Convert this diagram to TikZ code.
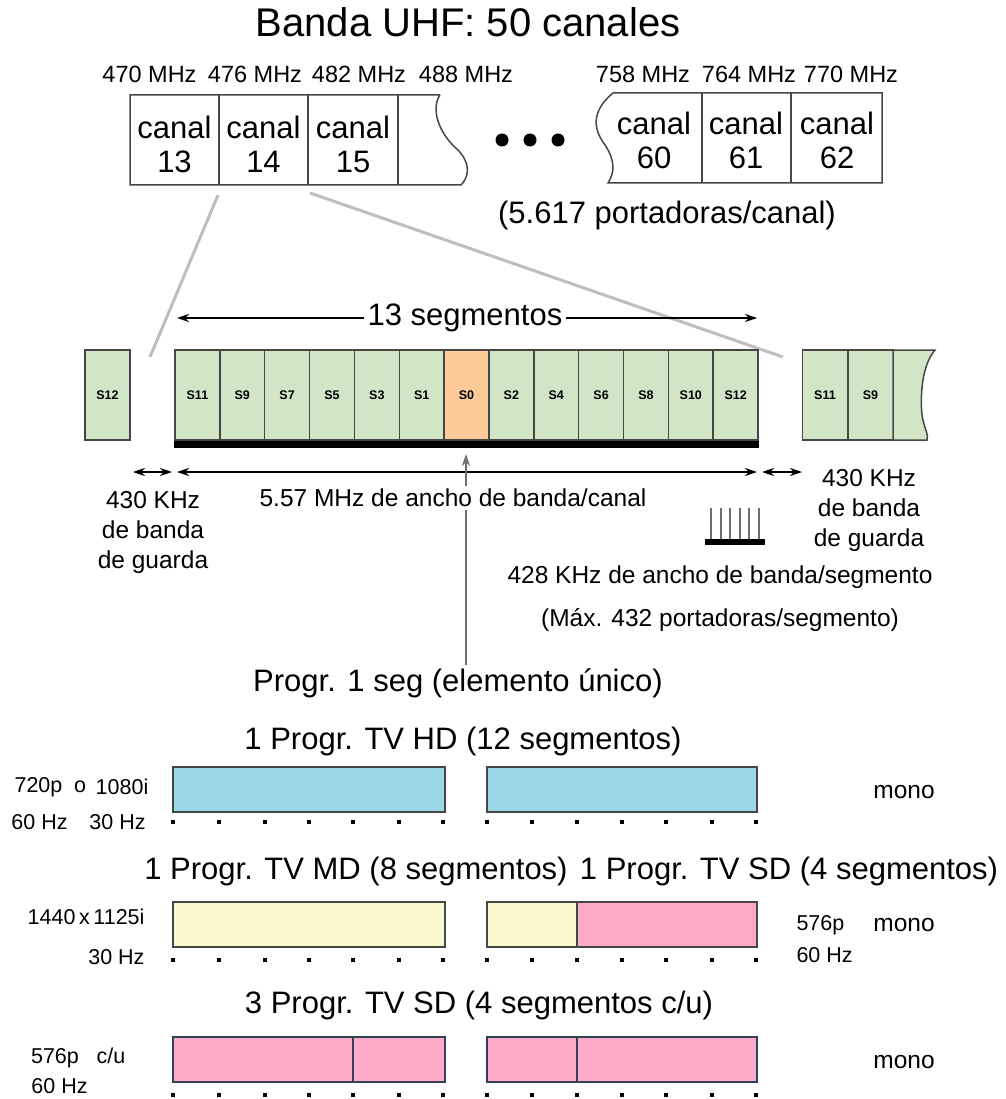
\documentclass[tikz,border=0pt]{standalone}
\usepackage{fontspec}
\setmainfont{Liberation Sans}
\usepackage{tikz}
\usetikzlibrary{arrows.meta,positioning,calc}

\definecolor{segverde}{RGB}{208,230,198}
\definecolor{segnaranja}{RGB}{252,202,152}
\definecolor{azulhd}{RGB}{155,216,233}
\definecolor{amarillo}{RGB}{250,247,205}
\definecolor{rosa}{RGB}{255,170,200}
\definecolor{borde}{RGB}{70,70,70}
\definecolor{bordeazul}{RGB}{50,65,85}
\definecolor{gris}{RGB}{190,190,190}
\definecolor{grisosc}{RGB}{110,110,110}

\begin{document}
\begin{tikzpicture}[x=1pt,y=-1pt,>={Stealth[length=12pt,width=8pt]},
  titulo/.style={font=\fontsize{40}{46}\selectfont},
  grande/.style={font=\fontsize{31}{34}\selectfont},
  medio/.style={font=\fontsize{24.5}{30}\selectfont},
  chico/.style={font=\fontsize{21.5}{26}\selectfont},
  frec/.style={font=\fontsize{23.5}{28}\selectfont},
  canal/.style={grande,align=center,inner sep=0pt},
  seg/.style={draw=borde,line width=1.5pt,fill=segverde,minimum width=44.85pt,
    minimum height=90pt,inner sep=0pt,font=\bfseries\fontsize{12.5}{12.5}\selectfont},
  barra/.style={draw=borde,line width=1.5pt},
  zoomlinea/.style={draw=gris,line width=3pt}]
  \useasboundingbox (0,0) rectangle (1005,1099);

  % banda UHF
  \node[titulo] (titulo) at (468,22) {Banda UHF: 50 canales};
  \foreach \f/\x in {470/149.5,476/255,482/359,488/466,758/643,764/749,770/851}
    \node[frec] (f\f) at (\x,74) {\f~MHz};

  \draw[barra] (440,95) -- (130,95) -- (130,185) -- (461,185)
    .. controls (468,178) and (472,165) .. (458,150)
    .. controls (440,135) and (430,110) .. (440,95);
  \foreach \x in {219,308,398}
    \draw[barra] (\x,95) -- (\x,185);
  \foreach \n/\x in {13/174.5,14/263.5,15/353}
    \node[canal] (c\n) at (\x,144) {canal\\\n};

  \foreach \x [count=\i] in {502,530,558}
    \fill (\x,140) circle[radius=6.5pt];

  \draw[barra] (613,93) -- (882,93) -- (882,183) -- (608,183)
    .. controls (615,172) and (615,160) .. (605,145)
    .. controls (590,125) and (595,108) .. (613,93);
  \foreach \x in {702,791}
    \draw[barra] (\x,93) -- (\x,183);
  \foreach \n/\x in {60/654,61/746,62/837}
    \node[canal] (c\n) at (\x,140) {canal\\\n};

  \node[grande] (portadoras) at (667,215) {(5.617 portadoras/canal)};

  % lineas de ampliacion
  \coordinate (z1a) at (218,195);
  \coordinate (z1b) at (150,357);
  \coordinate (z2a) at (310,193);
  \coordinate (z2b) at (783,357);
  \draw[zoomlinea] (z1a) -- (z1b);
  \draw[zoomlinea] (z2a) -- (z2b);

  % segmentos
  \node[seg] (sg12) at (107.5,395) {S12};
  \foreach \nom/\col [count=\i from 0] in {S11/segverde,S9/segverde,S7/segverde,
      S5/segverde,S3/segverde,S1/segverde,S0/segnaranja,S2/segverde,S4/segverde,
      S6/segverde,S8/segverde,S10/segverde,S12/segverde}
    \node[seg,fill=\col] (s\i) at ({175+44.85*(\i+0.5)},395) {\nom};
  \draw[line width=7pt] ($(s0.south west)+(0,3.5)$) -- ($(s12.south east)+(0,3.5)$);

  \node[seg,minimum width=45.5pt] (sd11) at (825,395) {S11};
  \node[seg,minimum width=45.5pt] (sd9) at (870.5,395) {S9};
  \draw[barra,fill=segverde] (893,350) -- (935,350)
    .. controls (922,365) and (920,395) .. (922,415)
    .. controls (924,428) and (929,435) .. (927,440) -- (893,440) -- cycle;

  \node[grande,fill=white] (trece) at (465,318) {13 segmentos};
  \coordinate (tl) at (177,318);
  \coordinate (tr) at (757,318);
  \draw[->,line width=1.5pt] (trece.west) -- (tl);
  \draw[->,line width=1.5pt] (trece.east) -- (tr);

  % anchos de banda
  \coordinate (gl1) at (133,472);
  \coordinate (gl2) at (172,472);
  \coordinate (bw1) at (177,472);
  \coordinate (bw2) at (757,472);
  \coordinate (gr1) at (762,472);
  \coordinate (gr2) at (802,472);
  \draw[<->,line width=1.4pt] (gl1) -- (gl2);
  \draw[<->,line width=1.4pt] (bw1) -- (bw2);
  \draw[<->,line width=1.4pt] (gr1) -- (gr2);

  \node[grande] (prog1) at (458,683) {Progr. 1 seg (elemento único)};
  \coordinate (flecha) at (466,454);
  \draw[->,draw=grisosc,line width=2pt] (prog1.north -| flecha) -- (flecha);
  \node[medio,fill=white,inner sep=3pt] (ancho) at (453,498) {5.57 MHz de ancho de banda/canal};

  \node[medio,align=center] (guardaizq) at (153,532) {430 KHz\\de banda\\de guarda};
  \node[medio,align=center] (guardader) at (869,510) {430 KHz\\de banda\\de guarda};

  \foreach \x in {711,720.5,730,739.5,749,758.5}
    \draw[grisosc,line width=2pt] (\x,508) -- (\x,540);
  \fill (705,539) rectangle (765,545);

  \node[medio] (anchoseg) at (720,577) {428 KHz de ancho de banda/segmento};
  \node[medio] (maxport) at (720,620) {(Máx. 432 portadoras/segmento)};

  % programas HD
  \node[grande] (hd) at (463,741) {1 Progr. TV HD (12 segmentos)};
  \draw[barra,fill=azulhd] (173,767) rectangle (445,812);
  \draw[barra,fill=azulhd] (487,767) rectangle (757,812);
  \node[chico] (res720) at (38.5,787) {720p};
  \node[chico] (reso) at (80,787) {o};
  \node[chico] (res1080) at (122,787) {1080i};
  \node[chico] (hz60a) at (39.5,822) {60 Hz};
  \node[chico] (hz30a) at (117.5,822) {30 Hz};
  \node[medio] (mono1) at (904,792) {mono};

  % programas MD y SD
  \node[grande] (md) at (356,871) {1 Progr. TV MD (8 segmentos)};
  \node[grande] (sd) at (789,871) {1 Progr. TV SD (4 segmentos)};
  \draw[barra,fill=amarillo] (173,902) rectangle (445,947);
  \draw[barra,fill=amarillo] (487,902) rectangle (577,947);
  \draw[barra,fill=rosa] (577,902) rectangle (757,947);
  \node[chico,anchor=east] (res1440) at (148,917) {1440\,x\,1125i};
  \node[chico,anchor=east] (hz30b) at (148,957) {30 Hz};
  \node[chico,anchor=west] (res576a) at (793,925) {576p};
  \node[medio] (mono2) at (904,925) {mono};
  \node[chico,anchor=west] (hz60b) at (793,955) {60 Hz};

  % tres programas SD
  \node[grande] (sd3) at (479,1005) {3 Progr. TV SD (4 segmentos c/u)};
  \draw[barra,draw=bordeazul,fill=rosa] (173,1037) rectangle (445,1082);
  \draw[barra,draw=bordeazul] (353,1037) -- (353,1082);
  \draw[barra,draw=bordeazul,fill=rosa] (487,1037) rectangle (757,1082);
  \draw[barra,draw=bordeazul] (577,1037) -- (577,1082);
  \node[chico] (res576b) at (55,1058) {576p};
  \node[chico] (cu) at (111,1056) {c/u};
  \node[chico] (hz60c) at (59.5,1086) {60 Hz};
  \node[medio] (mono3) at (904,1062) {mono};

  % puntos de segmento
  \foreach \y in {822,960,1095}
    \foreach \x in {173,219,265,309,353,399,443,487,532,577,622,666,712,756}
      \fill (\x-2,\y-2) rectangle (\x+2,\y+2);
\end{tikzpicture}
\end{document}
